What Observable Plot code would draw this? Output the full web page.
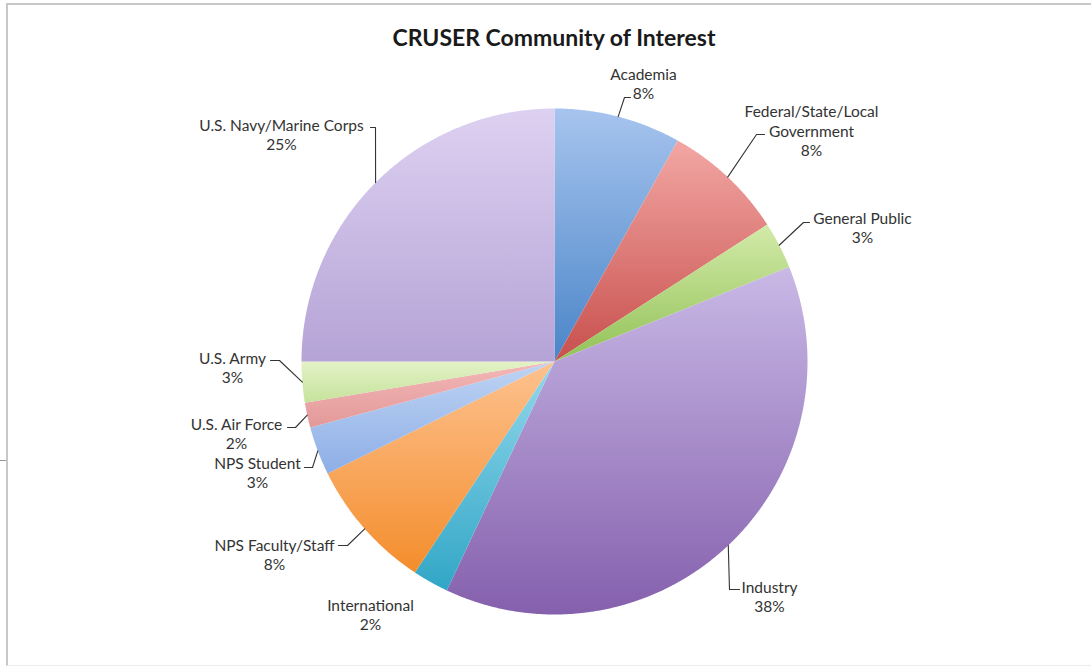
<!DOCTYPE html>
<html>
<head>
<meta charset="utf-8">
<script src="https://cdn.jsdelivr.net/npm/d3@7"></script>
<script src="https://cdn.jsdelivr.net/npm/@observablehq/plot@0.6"></script>
<style>
  body { margin: 0; background: #fff; font-family: Lato, "Open Sans", sans-serif; }
  #wrap { position: relative; width: 1091px; height: 669px; overflow: hidden; }
  #frame { position: absolute; left: 6px; top: 3px; width: 1100px; height: 663px; box-sizing: border-box;
           border-top: 2px solid #c8c8c8; border-left: 2px solid #c8c8c8; border-bottom: 1px solid #ececec; pointer-events: none; }
  #tick { position: absolute; left: 0; top: 460px; width: 6px; height: 1px; background: #999; }
  #title { width: 1108px; height: 56px; box-sizing: border-box; padding-top: 22px; line-height: 30px;
           text-align: center; font-weight: bold; font-size: 23px; color: #1a1a1a; font-family: Lato, sans-serif; }
  #chart svg { display: block; }
</style>
</head>
<body>
<div id="wrap">
  <div id="frame"></div>
  <div id="tick"></div>
  <div id="title">CRUSER Community of Interest</div>
  <div id="chart"></div>
</div>
<script>
// ---- data ----
const categories = [
  "Academia", "Federal/State/Local Government", "General Public", "Industry", "International",
  "NPS Faculty/Staff", "NPS Student", "U.S. Air Force", "U.S. Army", "U.S. Navy/Marine Corps"
];
const labelNames = [
  "Academia", "Federal/State/Local\nGovernment", "General Public", "Industry", "International",
  "NPS Faculty/Staff", "NPS Student", "U.S. Air Force", "U.S. Army", "U.S. Navy/Marine Corps"
];
const shares = [8.1, 7.8, 3.0, 38.1, 2.3, 8.4, 3.1, 1.6, 2.6, 25.0];

// ---- styles ----
const lightColors = ["#a7c4ee", "#f2a7a4", "#d3eaa9", "#c9b9e6", "#93d8ec", "#fdc28f", "#bfd4f3", "#f3b8b8", "#e3f2c6", "#ddd1f1"];
const darkColors  = ["#4a85c8", "#c8504d", "#92c257", "#8560ad", "#31a6c6", "#f48d2c", "#8daee6", "#e39898", "#c6e29c", "#b5a3d6"];

// ---- layout (page pixels): label centre, leader attach point, leader elbow ----
const labelLayout = [
  {tx: 643, ty: 83,  ax: 630, ay: 97,  ex: 624, ey: 97},
  {tx: 811, ty: 130, ax: 764, ay: 134, ex: 756, ey: 134},
  {tx: 862, ty: 227, ax: 809, ay: 222, ex: 803, ey: 222},
  {tx: 769, ty: 596, ax: 739, ay: 589, ex: 729, ey: 589},
  {tx: 370, ty: 614, ax: null},
  {tx: 274, ty: 554, ax: 338, ay: 545, ex: 347, ey: 545},
  {tx: 257, ty: 472, ax: 304, ay: 467, ex: 312, ey: 467},
  {tx: 236, ty: 433, ax: 287, ay: 427, ex: 295, ey: 427},
  {tx: 232, ty: 367, ax: 270, ay: 360, ex: 279, ey: 360},
  {tx: 281, ty: 134, ax: 370, ay: 127, ex: 375, ey: 127}
];

const W = 1091, H = 613, TOP = 56;       // svg size and its offset on the page
const CX = 554, CY = 361, R = 253;       // pie centre / radius on the page
const toX = px => (px - CX) / R;
const toY = py => (CY - py) / R;

// slices as polygons in unit-radius coordinates (angles clockwise from 12 o'clock)
const total = d3.sum(shares);
let acc = 0;
const slices = shares.map((v, i) => {
  const a0 = acc / total * 2 * Math.PI;
  acc += v;
  const a1 = acc / total * 2 * Math.PI;
  return {i, a0, a1, mid: (a0 + a1) / 2};
});
const slicePts = [];
for (const s of slices) {
  slicePts.push({i: s.i, x: 0, y: 0});
  const n = Math.max(2, Math.ceil((s.a1 - s.a0) / 0.005));
  for (let k = 0; k <= n; k++) {
    const a = s.a0 + (s.a1 - s.a0) * k / n;
    slicePts.push({i: s.i, x: Math.sin(a), y: Math.cos(a)});
  }
  slicePts.push({i: s.i, x: 0, y: 0});
}

const leaderPts = [];
slices.forEach(s => {
  const L = labelLayout[s.i];
  if (L.ax == null) return;
  leaderPts.push({i: s.i, x: Math.sin(s.mid), y: Math.cos(s.mid)});
  leaderPts.push({i: s.i, x: toX(L.ex), y: toY(L.ey)});
  leaderPts.push({i: s.i, x: toX(L.ax), y: toY(L.ay)});
});

const labels = categories.map((c, i) => ({
  x: toX(labelLayout[i].tx),
  y: toY(labelLayout[i].ty),
  text: labelNames[i] + "\n" + Math.round(shares[i]) + "%"
}));

const chart = Plot.plot({
  width: W,
  height: H,
  margin: 0,
  x: {domain: [toX(0), toX(W)], range: [0, W], axis: null},
  y: {domain: [toY(TOP + H), toY(TOP)], range: [H, 0], axis: null},
  color: {type: "identity"},
  style: {background: "transparent", overflow: "visible"},
  marks: [
    Plot.line(slicePts, {x: "x", y: "y", z: "i", fill: d => `url(#grad${d.i})`, stroke: "none", curve: "linear"}),
    Plot.line(leaderPts, {x: "x", y: "y", z: "i", stroke: "#333", strokeWidth: 1.1, curve: "linear"}),
    Plot.text(labels, {x: "x", y: "y", text: "text", fontSize: 15.5, lineHeight: 1.24, fill: "#333",
      fontFamily: "Lato, sans-serif", textAnchor: "middle"})
  ]
});

const defs = d3.select(chart).insert("defs", ":first-child");
categories.forEach((c, i) => {
  const g = defs.append("linearGradient").attr("id", "grad" + i)
    .attr("x1", 0).attr("y1", 0).attr("x2", 0).attr("y2", 1);
  g.append("stop").attr("offset", 0).attr("stop-color", lightColors[i]);
  g.append("stop").attr("offset", 1).attr("stop-color", darkColors[i]);
});

document.getElementById("chart").appendChild(chart);
</script>
</body>
</html>
